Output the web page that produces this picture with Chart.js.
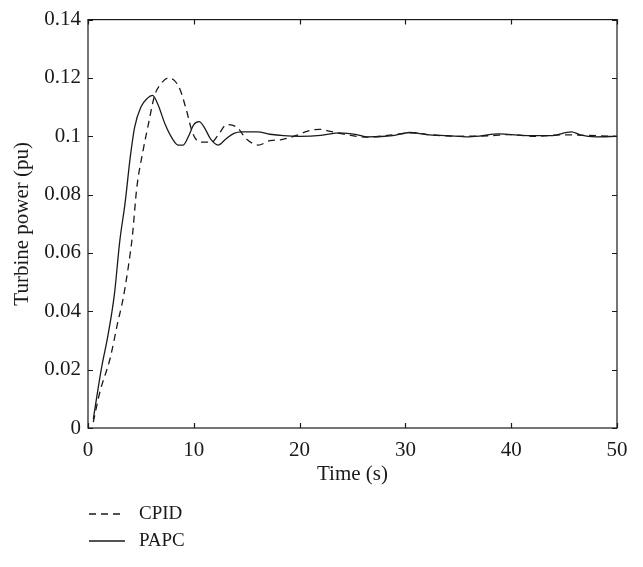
<!DOCTYPE html>
<html>
<head>
<meta charset="utf-8">
<script src="https://cdn.jsdelivr.net/npm/chart.js@4/dist/chart.umd.min.js"></script>
<style>
    html, body { margin: 0; padding: 0; background: #ffffff; }
    #wrap { width: 643px; height: 567px; }
</style>
</head>
<body>
<div id="wrap"><canvas id="turbineChart" width="643" height="567"></canvas></div>
<script>
// Turbine power response
const papcTime = [0.5, 0.8, 1.3, 1.9, 2.5, 3.0, 3.5, 4.0, 4.4, 5.0, 5.6, 6.1, 6.6, 7.3, 8.0, 8.5, 9.0, 9.5,
    10.0, 10.5, 11.0, 11.6, 12.3, 13.0, 13.8, 14.5, 16.0, 17.2, 18.5, 20.0, 22.0, 23.8, 25.4, 26.4,
    28.8, 30.4, 32.0, 34.0, 36.0, 38.9, 41.0, 43.7, 45.7, 46.5, 48.0, 50.0];
const papcPower = [0.003, 0.010, 0.021, 0.032, 0.046, 0.064, 0.077, 0.093, 0.103, 0.110, 0.113, 0.114, 0.111,
    0.104, 0.099, 0.097, 0.097, 0.100, 0.104, 0.105, 0.103, 0.099, 0.097, 0.099, 0.101, 0.1015, 0.1015,
    0.1007, 0.1002, 0.1000, 0.1003, 0.1012, 0.1006, 0.0998, 0.1002, 0.1013, 0.1006, 0.1002, 0.0998,
    0.1008, 0.1003, 0.1002, 0.1015, 0.1005, 0.0998, 0.1000];

const cpidTime = [0.5, 1.1, 2.1, 2.8, 3.3, 3.8, 4.2, 4.6, 5.2, 5.7, 6.3, 6.9, 7.6, 8.2, 8.7, 9.3, 9.9,
    10.6, 11.7, 12.4, 13.1, 14.1, 15.0, 16.1, 17.2, 18.2, 19.7, 20.7, 21.9, 22.9, 23.8, 26.4, 28.8,
    30.7, 32.1, 35.0, 38.0, 40.0, 42.0, 45.0, 47.0, 50.0];
const cpidPower = [0.002, 0.012, 0.024, 0.036, 0.044, 0.055, 0.066, 0.082, 0.095, 0.104, 0.114, 0.118, 0.120,
    0.119, 0.116, 0.109, 0.101, 0.098, 0.098, 0.101, 0.104, 0.103, 0.099, 0.097, 0.0985, 0.0988, 0.1003,
    0.1017, 0.1024, 0.1017, 0.1010, 0.0997, 0.1005, 0.1012, 0.1006, 0.1000, 0.1002, 0.1006, 0.1000,
    0.1005, 0.1003, 0.1000];

const xTicks = [0, 10, 20, 30, 40, 50];
const yTicks = [0, 0.02, 0.04, 0.06, 0.08, 0.1, 0.12, 0.14];

const ink = '#1a1a1a';
const serif = "'Liberation Serif', 'DejaVu Serif', serif";

function toPoints(xs, ys) {
    return xs.map((x, i) => ({ x: x, y: ys[i] }));
}

// box with inward ticks on all four sides, MATLAB style
const boxTicks = {
    id: 'boxTicks',
    afterDraw(chart) {
        const ctx = chart.ctx;
        const a = chart.chartArea;
        const xs = chart.scales.x;
        const ys = chart.scales.y;
        const len = 5;
        ctx.save();
        ctx.strokeStyle = ink;
        ctx.lineWidth = 1.2;
        ctx.strokeRect(a.left, a.top, a.right - a.left, a.bottom - a.top);
        ctx.beginPath();
        xTicks.forEach(v => {
            const px = Math.round(xs.getPixelForValue(v)) + 0.5;
            ctx.moveTo(px, a.bottom); ctx.lineTo(px, a.bottom - len);
            ctx.moveTo(px, a.top); ctx.lineTo(px, a.top + len);
        });
        yTicks.forEach(v => {
            const py = Math.round(ys.getPixelForValue(v)) + 0.5;
            ctx.moveTo(a.left, py); ctx.lineTo(a.left + len, py);
            ctx.moveTo(a.right, py); ctx.lineTo(a.right - len, py);
        });
        ctx.stroke();
        ctx.restore();
    }
};

// legend stacked below the axes, left aligned
const stackedLegend = {
    id: 'stackedLegend',
    afterDraw(chart) {
        const ctx = chart.ctx;
        const left = chart.chartArea.left + 1;
        ctx.save();
        ctx.font = '19px ' + serif;
        ctx.textBaseline = 'middle';
        ctx.fillStyle = ink;
        chart.data.datasets.forEach((ds, i) => {
            const y = 514 + i * 27;
            ctx.strokeStyle = ink;
            ctx.lineWidth = 1.3;
            ctx.setLineDash(ds.borderDash || []);
            ctx.beginPath();
            ctx.moveTo(left, y);
            ctx.lineTo(left + 36, y);
            ctx.stroke();
            ctx.setLineDash([]);
            ctx.fillText(ds.label, left + 50, y);
        });
        ctx.restore();
    }
};

new Chart(document.getElementById('turbineChart'), {
    type: 'line',
    data: {
        datasets: [
            {
                label: 'CPID',
                data: toPoints(cpidTime, cpidPower),
                borderColor: ink,
                borderWidth: 1.3,
                borderDash: [7, 5],
                pointRadius: 0,
                cubicInterpolationMode: 'monotone',
                fill: false
            },
            {
                label: 'PAPC',
                data: toPoints(papcTime, papcPower),
                borderColor: ink,
                borderWidth: 1.3,
                pointRadius: 0,
                cubicInterpolationMode: 'monotone',
                fill: false
            }
        ]
    },
    options: {
        responsive: false,
        animation: false,
        layout: { padding: { left: 6, right: 26, top: 15, bottom: 76 } },
        plugins: {
            legend: { display: false },
            tooltip: { enabled: false }
        },
        scales: {
            x: {
                type: 'linear',
                min: 0,
                max: 50,
                afterFit: s => { s.height = 63; },
                afterBuildTicks: s => { s.ticks = xTicks.map(v => ({ value: v })); },
                grid: { display: false, drawTicks: false },
                border: { display: false },
                ticks: { color: ink, padding: 10, maxRotation: 0, font: { family: serif, size: 21 } },
                title: { display: true, text: 'Time (s)', color: ink, font: { family: serif, size: 21 } }
            },
            y: {
                min: 0,
                max: 0.14,
                afterFit: s => { s.width = 82; },
                afterBuildTicks: s => { s.ticks = yTicks.map(v => ({ value: v })); },
                grid: { display: false, drawTicks: false },
                border: { display: false },
                ticks: {
                    color: ink,
                    padding: 7,
                    font: { family: serif, size: 21 },
                    callback: v => String(+v.toFixed(2))
                },
                title: { display: true, text: 'Turbine power (pu)', color: ink, font: { family: serif, size: 21 } }
            }
        }
    },
    plugins: [boxTicks, stackedLegend]
});
</script>
</body>
</html>
